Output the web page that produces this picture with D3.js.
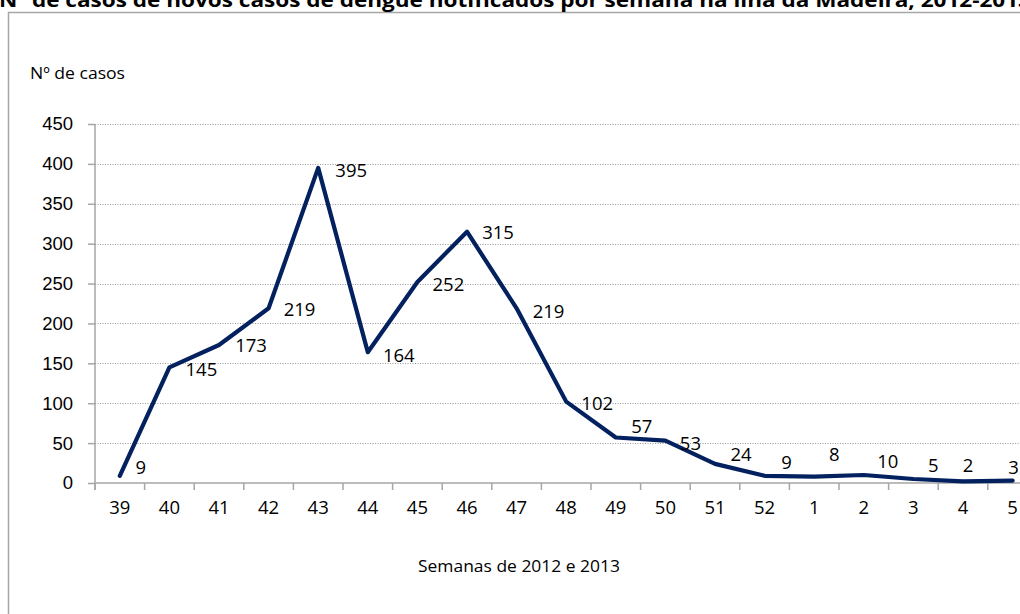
<!DOCTYPE html>
<html>
<head>
<meta charset="utf-8">
<script src="https://cdn.jsdelivr.net/npm/d3@7"></script>
<style>
	body { margin: 0; background: #fff; }
	svg { display: block; font-family: "Open Sans", sans-serif; }
</style>
</head>
<body>
<svg id="chart" width="1020" height="614"></svg>
<script>
// semanas (39..52 de 2012, 1..5 de 2013)
const weeks = ['39', '40', '41', '42', '43', '44', '45', '46', '47', '48', '49', '50', '51', '52', '1', '2', '3', '4', '5'];
const cases = [9, 145, 173, 219, 395, 164, 252, 315, 219, 102, 57, 53, 24, 9, 8, 10, 5, 2, 3];
const yTicks = [0, 50, 100, 150, 200, 250, 300, 350, 400, 450];

// label nudges (dx, dy from the point), they were placed by hand in the original
const labelNudge = [[21, -8], [32, 2], [32, 1], [31, 1], [33, 3], [31, 3], [31, 3], [31, 1], [32, 3],
	[31, 2], [26, -11], [25, 3], [26, -9], [22, -13], [20, -22], [24, -13], [20, -13], [5, -16], [1, -13]];

const svg = d3.select('#chart');
const LEFT = 95, TOP = 124, BOTTOM = 483, STEP = 49.6;
const axisColor = '#a6a6a6';
const FS = 18.5;

// chart frame (only the top / left edges are in view)
svg.append('rect')
	.attr('x', 8.5).attr('y', 12.5)
	.attr('width', 1100).attr('height', 700)
	.attr('fill', 'none').attr('stroke', axisColor).attr('stroke-width', 1.5);

// title, cut by the top of the page like in the original
svg.append('text')
	.attr('x', -1).attr('y', 7)
	.attr('font-size', 19).attr('font-weight', 'bold')
	.attr('textLength', 1032).attr('lengthAdjust', 'spacingAndGlyphs')
	.text('Nº de casos de novos casos de dengue notificados por semana na ilha da Madeira, 2012-2013');

const x = d3.scaleBand().domain(weeks).range([LEFT, LEFT + STEP * weeks.length]);
const y = d3.scaleLinear().domain([0, 450]).range([BOTTOM, TOP]);

// gridlines
svg.append('g')
	.selectAll('line')
	.data(yTicks.filter(d => d > 0))
	.join('line')
	.attr('x1', LEFT).attr('x2', 1020)
	.attr('y1', d => Math.round(y(d)) + 0.5).attr('y2', d => Math.round(y(d)) + 0.5)
	.attr('stroke', '#999').attr('stroke-width', 1)
	.attr('stroke-dasharray', '1,1.5');

// y axis
const yAxis = svg.append('g').attr('transform', `translate(${LEFT},0)`)
	.call(d3.axisLeft(y).tickValues(yTicks).tickSize(7).tickPadding(15));
yAxis.select('.domain').remove();
yAxis.append('line')
	.attr('x1', 0).attr('x2', 0).attr('y1', TOP).attr('y2', BOTTOM + 7)
	.attr('stroke', axisColor).attr('stroke-width', 1.5);
yAxis.selectAll('.tick line').attr('stroke', axisColor).attr('stroke-width', 1.5);
yAxis.selectAll('.tick text').attr('font-size', FS).attr('fill', '#000');

// x axis
const xAxis = svg.append('g').attr('transform', `translate(0,${BOTTOM})`);
xAxis.append('line')
	.attr('x1', LEFT).attr('x2', 1020)
	.attr('stroke', axisColor).attr('stroke-width', 1.5);
xAxis.selectAll('line.tk')
	.data(weeks)
	.join('line')
	.attr('class', 'tk')
	.attr('x1', d => x(d)).attr('x2', d => x(d))
	.attr('y1', 0).attr('y2', 7)
	.attr('stroke', axisColor).attr('stroke-width', 1.5);
xAxis.selectAll('text')
	.data(weeks)
	.join('text')
	.attr('x', d => x(d) + x.bandwidth() / 2)
	.attr('y', 31)
	.attr('text-anchor', 'middle')
	.attr('font-size', FS)
	.text(d => d);

// the line
const line = d3.line()
	.x((d, i) => x(weeks[i]) + x.bandwidth() / 2)
	.y(d => y(d));

svg.append('path')
	.datum(cases)
	.attr('d', line)
	.attr('fill', 'none')
	.attr('stroke', '#03205f')
	.attr('stroke-width', 4.2)
	.attr('stroke-linejoin', 'round')
	.attr('stroke-linecap', 'round');

// value labels
svg.append('g')
	.selectAll('text')
	.data(cases)
	.join('text')
	.attr('x', (d, i) => x(weeks[i]) + x.bandwidth() / 2 + labelNudge[i][0])
	.attr('y', (d, i) => y(d) + labelNudge[i][1])
	.attr('dy', '0.35em')
	.attr('text-anchor', 'middle')
	.attr('font-size', FS)
	.text(d => d);

// axis titles
svg.append('text')
	.attr('x', 30).attr('y', 79)
	.attr('font-size', 17)
	.attr('textLength', 95).attr('lengthAdjust', 'spacingAndGlyphs')
	.text('Nº de casos');

svg.append('text')
	.attr('x', 418).attr('y', 572)
	.attr('font-size', 17)
	.attr('textLength', 202).attr('lengthAdjust', 'spacingAndGlyphs')
	.text('Semanas de 2012 e 2013');
</script>
</body>
</html>
